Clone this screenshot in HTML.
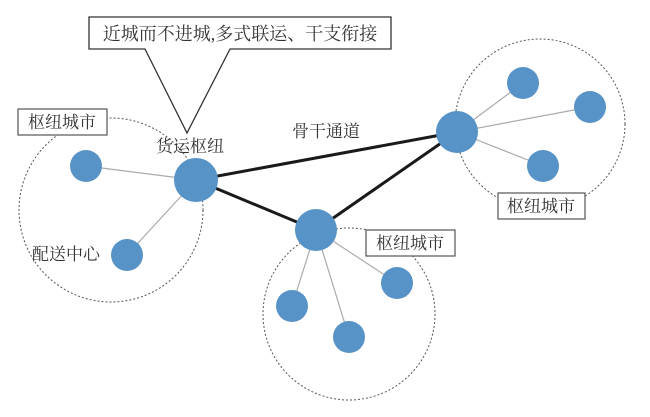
<!DOCTYPE html>
<html><head><meta charset="utf-8"><style>
body{margin:0;background:#fff}
text{font-family:"Liberation Serif","Noto Serif CJK SC",serif;fill:#333}
</style></head><body>
<svg width="650" height="412" xmlns="http://www.w3.org/2000/svg">
<g fill="none" stroke="#555" stroke-width="1" stroke-dasharray="2,2">
<circle cx="111" cy="210" r="92"/>
<circle cx="349" cy="314" r="86"/>
<circle cx="540" cy="124" r="85"/>
</g>
<g stroke="#aaa" stroke-width="1.2">
<line x1="196" y1="180" x2="86" y2="166"/>
<line x1="196" y1="180" x2="127" y2="255"/>
<line x1="316" y1="230" x2="397" y2="283"/>
<line x1="316" y1="230" x2="292" y2="306"/>
<line x1="316" y1="230" x2="349" y2="337"/>
<line x1="457" y1="132" x2="523" y2="83"/>
<line x1="457" y1="132" x2="590" y2="107"/>
<line x1="457" y1="132" x2="543" y2="166"/>
</g>
<g stroke="#1a1a1a" stroke-width="3">
<line x1="196" y1="180" x2="457" y2="132"/>
<line x1="196" y1="180" x2="316" y2="230"/>
<line x1="316" y1="230" x2="457" y2="132"/>
</g>
<g fill="#5893c8">
<circle cx="196" cy="180" r="22"/>
<circle cx="86" cy="166" r="16"/>
<circle cx="127" cy="255" r="16"/>
<circle cx="316" cy="230" r="21"/>
<circle cx="397" cy="283" r="16"/>
<circle cx="292" cy="306" r="16"/>
<circle cx="349" cy="337" r="16"/>
<circle cx="457" cy="132" r="21"/>
<circle cx="523" cy="83" r="16"/>
<circle cx="590" cy="107" r="16"/>
<circle cx="543" cy="166" r="16"/>
</g>
<path d="M89,17 H391 V49 H230 L187,133 L145,49 H89 Z" fill="#fff" stroke="#333" stroke-width="1.3"/>
<text x="240" y="40" font-size="18" text-anchor="middle">近城而不进城,多式联运、干支衔接</text>
<g fill="#fff" stroke="#555" stroke-width="1.2">
<rect x="18" y="109" width="89" height="26"/>
<rect x="366" y="230" width="89" height="26"/>
<rect x="498" y="193" width="87" height="26"/>
</g>
<g font-size="17" text-anchor="middle">
<text x="62" y="128">枢纽城市</text>
<text x="410" y="249">枢纽城市</text>
<text x="541" y="212">枢纽城市</text>
<text x="190" y="152">货运枢纽</text>
<text x="326" y="137">骨干通道</text>
<text x="66" y="260">配送中心</text>
</g>
</svg>
</body></html>
